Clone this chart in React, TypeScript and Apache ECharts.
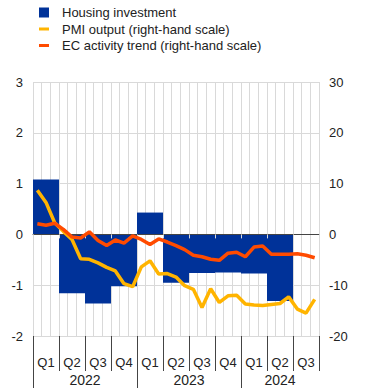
import React, { useEffect, useRef } from "react";
import * as echarts from "echarts";

const quarterLabels = ["Q1", "Q2", "Q3", "Q4", "Q1", "Q2", "Q3", "Q4", "Q1", "Q2", "Q3"];
const yearLabels = ["2022", "2023", "2024"];
const quartersPerYear = [4, 4, 3];

// Housing investment (quarterly, left-hand scale)
const housingInvestment: (number | null)[] = [1.08, -1.16, -1.36, -1.02, 0.43, -0.95, -0.76, -0.75, -0.77, -1.31, null];

// PMI output (monthly, right-hand scale)
const pmiOutput = [
  8.7, 6.3, 2.3, 0.6, -1.0, -4.8, -4.9, -5.6, -6.5, -7.2, -9.7, -10.3,
  -6.4, -5.2, -7.8, -7.7, -8.4, -10.1, -10.8, -14.4, -10.7, -13.4, -12.1, -12.0,
  -13.7, -13.9, -14.0, -13.8, -13.6, -12.3, -14.7, -15.5, -12.8,
];

// EC activity trend (monthly, right-hand scale)
const ecActivityTrend = [
  2.1, 1.8, 2.2, 1.0, -0.5, -0.7, 0.5, -1.2, -2.2, -1.1, -1.7, -0.3,
  -1.0, -2.0, -0.9, -1.5, -2.2, -3.0, -4.1, -4.4, -4.9, -5.1, -3.7, -3.5,
  -4.4, -2.5, -2.3, -3.9, -3.9, -3.9, -3.8, -4.1, -4.6,
];

const leftTicks = { min: -2, max: 3, interval: 1 };
const rightTicks = { min: -20, max: 30, interval: 10 };

const monthCategories: string[] = [];
yearLabels.forEach((y, yi) => {
  for (let m = 1; m <= quartersPerYear[yi] * 3; m++) monthCategories.push(`${y}-${m}`);
});

const yearTickPos: number[] = [];
const yearLabelPos: number[] = [];
{
  let acc = 0;
  quartersPerYear.forEach((q) => {
    yearTickPos.push(acc);
    yearLabelPos.push(acc + (q * 3) / 2);
    acc += q * 3;
  });
}

const FONT = "'Liberation Sans', Arial, sans-serif";
const TEXT = "#222";
const GRID = "#d9d9d9";
const DARK = "#444";

export default function App() {
  const ref = useRef<HTMLDivElement>(null);
  useEffect(() => {
    if (!ref.current) return;
    const chart = echarts.init(ref.current, null, { renderer: "svg" });
    chart.setOption({
      animation: false,
      textStyle: { fontFamily: FONT },
      legend: {
        orient: "vertical",
        left: 34,
        top: 1,
        itemWidth: 10,
        itemHeight: 10,
        itemGap: 3.5,
        textStyle: { fontSize: 13, color: TEXT, fontFamily: FONT, padding: [0, 0, 0, 8] },
        data: [
          { name: "Housing investment", icon: "rect" },
          { name: "PMI output (right-hand scale)", icon: "path://M0,0H10V3H0Z" },
          { name: "EC activity trend (right-hand scale)", icon: "path://M0,0H10V3H0Z" },
        ],
      },
      grid: { left: 33, right: 51, top: 82, bottom: 52, containLabel: false },
      xAxis: [
        {
          type: "category",
          data: quarterLabels,
          position: "bottom",
          boundaryGap: true,
          axisLine: { show: false, onZero: false },
          axisTick: { show: true, length: 35, lineStyle: { color: DARK } },
          axisLabel: { margin: 20, fontSize: 13, color: TEXT, fontFamily: FONT, interval: 0 },
          splitLine: { show: false },
        },
        {
          type: "category",
          data: monthCategories,
          position: "bottom",
          boundaryGap: true,
          axisLine: { show: false, onZero: false },
          axisTick: { show: false },
          axisLabel: { show: false },
          splitLine: { show: true, interval: 0, lineStyle: { color: GRID, width: 1 } },
        },
        {
          type: "value",
          min: 0,
          max: monthCategories.length,
          position: "bottom",
          axisLine: { show: false, onZero: false },
          axisTick: { show: true, length: 52, customValues: yearTickPos, lineStyle: { color: DARK } },
          axisLabel: {
            margin: 37,
            fontSize: 14,
            color: TEXT,
            fontFamily: FONT,
            customValues: yearLabelPos,
            formatter: (v: number) => {
              const i = yearLabelPos.indexOf(v);
              return i >= 0 ? yearLabels[i] : "";
            },
          },
          splitLine: { show: false },
        },
        {
          type: "category",
          data: quarterLabels,
          position: "bottom",
          boundaryGap: true,
          z: 5,
          axisLine: { show: true, onZero: true, onZeroAxisIndex: 0, lineStyle: { color: DARK, width: 1 } },
          axisTick: { show: true, length: 4, lineStyle: { color: GRID } },
          axisLabel: { show: false },
          splitLine: { show: false },
        },
      ],
      yAxis: [
        {
          type: "value",
          position: "left",
          ...leftTicks,
          axisLine: { show: false },
          axisTick: { show: false },
          axisLabel: { margin: 10, fontSize: 13, color: TEXT, fontFamily: FONT },
          splitLine: { show: true, lineStyle: { color: GRID, width: 1 } },
        },
        {
          type: "value",
          position: "right",
          ...rightTicks,
          axisLine: { show: false },
          axisTick: { show: false },
          axisLabel: { margin: 10, fontSize: 13, color: TEXT, fontFamily: FONT },
          splitLine: { show: false },
        },
      ],
      series: [
        {
          name: "Housing investment",
          type: "bar",
          xAxisIndex: 0,
          yAxisIndex: 0,
          data: housingInvestment,
          barCategoryGap: "0%",
          itemStyle: { color: "#003299" },
          z: 2,
        },
        {
          name: "PMI output (right-hand scale)",
          type: "line",
          xAxisIndex: 1,
          yAxisIndex: 1,
          data: pmiOutput,
          symbol: "none",
          lineStyle: { color: "#FFB400", width: 3.5 },
          itemStyle: { color: "#FFB400" },
          z: 6,
        },
        {
          name: "EC activity trend (right-hand scale)",
          type: "line",
          xAxisIndex: 1,
          yAxisIndex: 1,
          data: ecActivityTrend,
          symbol: "none",
          lineStyle: { color: "#FF4B00", width: 3.5 },
          itemStyle: { color: "#FF4B00" },
          z: 7,
        },
      ],
    });
    return () => chart.dispose();
  }, []);
  return (
    <div
      ref={ref}
      style={{ position: "fixed", left: 0, top: 0, width: 370, height: 388, background: "#fff" }}
    />
  );
}
